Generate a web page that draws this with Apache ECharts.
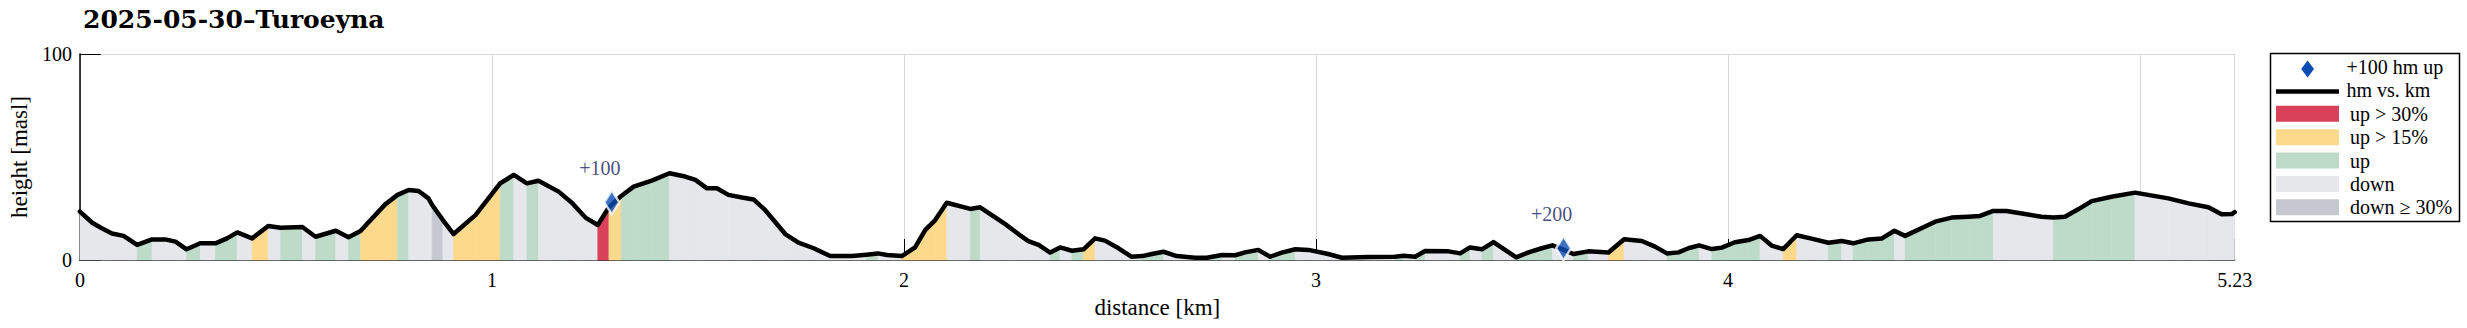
<!DOCTYPE html>
<html>
<head>
<meta charset="utf-8">
<script src="https://cdn.jsdelivr.net/npm/echarts@6/dist/echarts.min.js"></script>
<style>
html,body{margin:0;padding:0;background:#fff;}
#chart{width:2467px;height:328px;}
</style>
</head>
<body>
<div id="chart"></div>
<script>
// ---- data ----
const titleText = '2025-05-30\u2013Turoeyna';
const dist = [0.000,0.030,0.053,0.078,0.106,0.139,0.175,0.207,0.232,0.259,0.292,0.329,0.357,0.382,0.418,0.457,0.487,0.540,0.572,0.621,0.652,0.681,0.741,0.771,0.798,0.822,0.846,0.855,0.881,0.907,0.960,1.020,1.053,1.085,1.113,1.162,1.194,1.227,1.257,1.284,1.314,1.344,1.388,1.431,1.469,1.494,1.522,1.546,1.574,1.607,1.635,1.663,1.712,1.744,1.781,1.821,1.874,1.909,1.937,1.959,1.995,2.027,2.052,2.076,2.104,2.161,2.185,2.246,2.278,2.302,2.327,2.355,2.379,2.408,2.436,2.464,2.488,2.521,2.552,2.578,2.602,2.630,2.662,2.707,2.735,2.772,2.804,2.828,2.860,2.889,2.917,2.950,2.982,3.030,3.063,3.127,3.192,3.212,3.241,3.265,3.322,3.350,3.374,3.403,3.431,3.459,3.486,3.516,3.548,3.574,3.600,3.625,3.661,3.710,3.748,3.791,3.823,3.852,3.880,3.904,3.930,3.961,3.985,4.017,4.050,4.078,4.106,4.134,4.167,4.203,4.244,4.276,4.304,4.341,4.373,4.404,4.430,4.503,4.543,4.583,4.612,4.644,4.676,4.721,4.761,4.790,4.818,4.850,4.883,4.931,4.988,5.069,5.118,5.166,5.198,5.223,5.230];
const elev = [23.5,18.1,15.4,12.9,11.7,7.3,10.0,10.0,8.9,5.2,8.1,8.1,10.5,13.4,10.5,16.5,15.7,16.0,11.3,14.2,11.0,14.1,27.0,31.6,34.0,33.5,29.9,26.7,19.4,12.6,21.8,37.2,41.3,37.2,38.5,33.2,27.8,20.6,17.0,25.6,31.1,35.6,38.5,42.1,40.5,38.9,34.8,34.8,31.6,30.3,29.4,24.3,12.6,8.4,5.7,1.9,1.9,2.6,3.2,2.4,1.9,6.1,14.6,19.4,27.8,24.8,25.6,17.4,12.6,9.2,7.3,3.6,6.1,4.5,5.2,10.5,9.4,5.7,1.6,1.9,2.9,4.0,1.9,1.1,1.1,2.4,2.3,3.7,4.9,1.6,3.6,5.2,4.9,2.9,1.1,1.5,1.6,2.1,1.6,4.4,4.2,3.2,6.1,5.2,8.7,4.9,1.3,3.7,5.7,7.1,5.0,2.9,4.2,3.6,10.1,9.2,6.5,3.2,3.7,5.7,7.1,5.3,6.0,8.6,9.7,11.7,7.0,5.3,12.0,10.4,8.4,9.2,8.1,10.0,10.4,14.2,11.7,18.6,20.6,21.0,21.4,23.8,23.8,22.3,21.0,20.6,21.0,24.6,28.6,30.7,32.7,29.9,27.5,25.6,22.2,22.3,23.3];
// grade class of each segment (between point i and i+1)
const grade = ['d','d','d','d','d','u','d','d','d','u','d','u','u','d','y','d','u','d','u','d','u','y','y','u','d','d','d','D','d','y','y','u','d','u','d','d','d','d','r','y','u','u','u','d','d','d','d','d','d','d','d','d','d','d','d','d','d','u','d','d','y','y','y','y','d','u','d','d','d','d','d','u','d','u','y','d','d','d','d','u','u','d','d','d','u','d','u','u','d','u','u','d','d','d','d','d','u','d','u','d','d','u','d','u','d','d','u','u','u','d','d','u','d','y','d','d','d','u','u','u','d','u','u','u','u','d','d','y','d','d','u','d','u','u','u','d','u','u','u','u','u','d','d','d','d','u','u','u','u','u','d','d','d','d','d','d','d'];
const gradeNames = {r:'up > 30%', y:'up > 15%', u:'up', d:'down', D:'down \u2265 30%'};
const markerKm = [1.291, 3.601];
const markerHm = [28.0, 5.7];
const markerLabel = ['+100', '+200'];
const xTicks = [0, 1, 2, 3, 4, 5.23];
const yTicks = [0, 100];

// ---- style ----
const gradeColor = {r:'#D9405A', y:'#FDD98B', u:'#BEDBCA', d:'#E6E7EB', D:'#C6C8D0'};
const serif = 'Liberation Serif';

const segData = [];
for (let i = 0; i < dist.length - 1; i++) {
  segData.push([dist[i], elev[i], dist[i+1], elev[i+1], grade[i] || 'd']);
}

const chart = echarts.init(document.getElementById('chart'), null, {renderer: 'svg'});

const L = 2276, R = 2339; // legend swatch x range
const legendRows = [
  {y: 113.8, c: 'r'}, {y: 137.2, c: 'y'}, {y: 160.6, c: 'u'}, {y: 184, c: 'd'}, {y: 207.3, c: 'D'}
];
const graphic = [
  {type:'rect', shape:{x:2270.5, y:53.5, width:189, height:168}, style:{fill:'#fff', stroke:'#000', lineWidth:1.5}, z:10},
  {type:'polygon', shape:{points:[[2307.6,60.5],[2314,69],[2307.6,77.5],[2301.2,69]]}, style:{fill:'#0B4DB5'}, z:11},
  {type:'text', x:2346.5, y:67, style:{text:'+100 hm up', font:'20px "'+serif+'"', fill:'#000', verticalAlign:'middle'}, z:11},
  {type:'line', shape:{x1:L, y1:91.5, x2:R, y2:91.5}, style:{stroke:'#000', lineWidth:4.5}, z:11},
  {type:'text', x:2346.5, y:90, style:{text:'hm vs. km', font:'20px "'+serif+'"', fill:'#000', verticalAlign:'middle'}, z:11}
];
legendRows.forEach(r => {
  graphic.push({type:'rect', shape:{x:L, y:r.y-8, width:R-L, height:16}, style:{fill:gradeColor[r.c]}, z:11});
  graphic.push({type:'text', x:2350, y:r.y, style:{text:gradeNames[r.c], font:'20px "'+serif+'"', fill:'#000', verticalAlign:'middle'}, z:11});
});

chart.setOption({
  animation: false,
  backgroundColor: '#fff',
  title: {
    text: titleText, left: 78, top: 2,
    textStyle: {fontFamily: 'DejaVu Serif', fontWeight: 'bold', fontSize: 25, color: '#000'}
  },
  grid: {left: 79.5, right: 232.3, top: 54, bottom: 68, containLabel: false},
  xAxis: {
    type: 'value', min: 0, max: 5.23, interval: 1,
    name: 'distance [km]', nameLocation: 'middle', nameGap: 36,
    nameTextStyle: {fontFamily: serif, fontSize: 23, color: '#000'},
    axisLine: {lineStyle: {color: '#000', width: 1.5}},
    axisTick: {inside: true, length: 21, lineStyle: {color: '#000', width: 1}},
    axisLabel: {
      fontFamily: serif, fontSize: 20, color: '#000', margin: 10,
      showMinLabel: true, showMaxLabel: true,
      formatter: v => (xTicks.some(t => Math.abs(t - v) < 1e-6) ? (Math.abs(v-5.23)<1e-6 ? '5.23' : String(v)) : '')
    },
    splitLine: {show: true, lineStyle: {color: '#d6d6d6', width: 1}}
  },
  yAxis: {
    type: 'value', min: 0, max: 100, interval: 100,
    name: 'height [masl]', nameLocation: 'middle', nameGap: 46, nameRotate: 90,
    nameTextStyle: {fontFamily: serif, fontSize: 23, color: '#000'},
    axisLine: {show: true, lineStyle: {color: '#000', width: 1.5}},
    axisTick: {show: true, inside: true, length: 21, lineStyle: {color: '#000', width: 1}},
    axisLabel: {fontFamily: serif, fontSize: 20, color: '#000', margin: 8,
      formatter: v => (yTicks.indexOf(v) >= 0 ? String(v) : '')},
    splitLine: {show: true, lineStyle: {color: '#d6d6d6', width: 1}}
  },
  graphic: graphic,
  series: [
    {
      type: 'custom',
      data: segData,
      z: 1,
      renderItem: function (params, api) {
        const x0 = api.value(0), y0 = api.value(1), x1 = api.value(2), y1 = api.value(3);
        const c = gradeColor[segData[params.dataIndex][4]];
        const p0 = api.coord([x0, 0]), p1 = api.coord([x0, y0]), p2 = api.coord([x1, y1]), p3 = api.coord([x1, 0]);
        return {type: 'polygon', shape: {points: [p0, p1, p2, p3]}, style: {fill: c, stroke: c, lineWidth: 0.6}};
      },
      encode: {x: [0, 2], y: [1, 3]},
      silent: true
    },
    {
      type: 'line',
      data: dist.map((d, i) => [d, elev[i]]),
      showSymbol: false, symbol: 'none',
      lineStyle: {color: '#000', width: 4.5, join: 'round', cap: 'round'},
      z: 3, silent: true
    },
    {
      type: 'scatter',
      data: markerKm.map((k, i) => ({value: [k, markerHm[i]], label: {formatter: markerLabel[i]}})),
      symbol: 'diamond', symbolSize: [15, 24],
      itemStyle: {color: '#0B4DB5', borderColor: '#fff', borderWidth: 2.5},
      label: {show: true, position: 'top', distance: 11, offset: [-12, 0],
        fontFamily: serif, fontSize: 20, color: '#14205F'},
      z: 5, silent: true
    }
  ]
});
</script>
</body>
</html>
